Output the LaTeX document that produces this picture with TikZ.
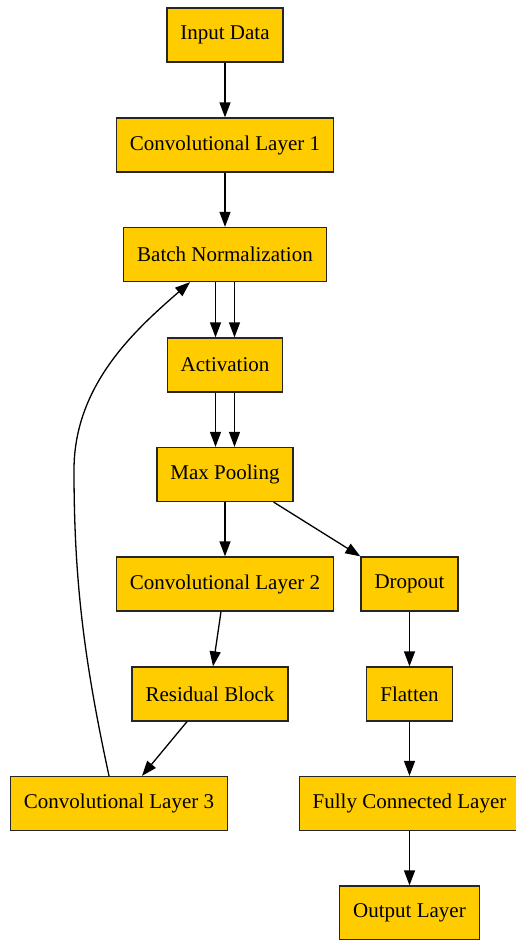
\documentclass[tikz,border=0pt]{standalone}
\usepackage{fontspec}
\setmainfont{Liberation Serif}
\usetikzlibrary{arrows.meta}
\definecolor{layergold}{HTML}{FFCC00}
\tikzset{
  layer/.style={draw=black!85, line width=1.3pt, fill=layergold,
    minimum height=54pt, inner xsep=13.5pt,
    font=\fontsize{21}{25}\selectfont},
  flow/.style={line width=1.3pt, -{Triangle[length=15pt,width=11pt]}}
}
\begin{document}
\begin{tikzpicture}[x=1pt,y=-1pt]
  \useasboundingbox (0,0) rectangle (516,940);
  % main column
  \node [layer] (in)   at (225,35)    {Input Data};
  \node [layer] (c1)   at (225,145)   {Convolutional Layer 1};
  \node [layer] (bn)   at (225,254.5) {Batch Normalization};
  \node [layer] (act)  at (225,365)   {Activation};
  \node [layer] (mp)   at (225,474.5) {Max Pooling};
  \node [layer] (c2)   at (225,584)   {Convolutional Layer 2};
  \node [layer] (res)  at (210,694)   {Residual Block};
  \node [layer] (c3)   at (119,803.5) {Convolutional Layer 3};
  % right branch
  \node [layer] (drop) at (409.5,584)   {Dropout};
  \node [layer] (flat) at (409.5,694)   {Flatten};
  \node [layer] (fc)   at (409.5,803.5) {Fully Connected Layer};
  \node [layer] (out)  at (409.5,913)   {Output Layer};

  \draw [flow] (in) -- (c1);
  \draw [flow] (c1) -- (bn);
  \draw [flow] ([xshift=-9.5pt]bn.south) -- ([xshift=-9.5pt]act.north);
  \draw [flow] ([xshift=9.5pt]bn.south) -- ([xshift=9.5pt]act.north);
  \draw [flow] ([xshift=-9.5pt]act.south) -- ([xshift=-9.5pt]mp.north);
  \draw [flow] ([xshift=9.5pt]act.south) -- ([xshift=9.5pt]mp.north);
  \draw [flow] (mp) -- (c2);
  \draw [flow] ([xshift=-20pt]mp.south east) -- (drop.north west);
  \draw [flow] ([xshift=-4pt]c2.south) -- ([xshift=3pt]res.north);
  \draw [flow] ([xshift=-23pt]res.south) -- ([xshift=23pt]c3.north);
  \draw [flow] ([xshift=-10pt]c3.north) .. controls (84,660) and (74,580)
        .. (74,470) .. controls (74,385) and (135,330) .. ([xshift=-35pt]bn.south);
  \draw [flow] (drop) -- (flat);
  \draw [flow] (flat) -- (fc);
  \draw [flow] (fc) -- (out);
\end{tikzpicture}
\end{document}
